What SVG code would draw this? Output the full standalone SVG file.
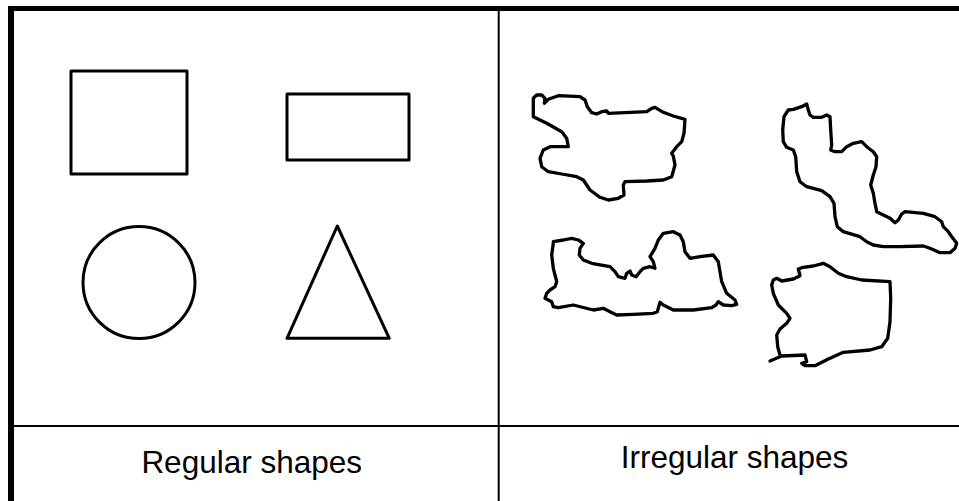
<svg xmlns="http://www.w3.org/2000/svg" width="959" height="501" viewBox="0 0 959 501">
<style>
.frame{stroke:#000;fill:none}
.shape{stroke:#000;stroke-width:3;fill:none;stroke-linejoin:round;stroke-linecap:round}
.blob{stroke-width:3.3}
.label{font-family:"Liberation Sans",Arial,sans-serif;font-size:31.5px;fill:#000;text-anchor:middle}
</style>
<rect width="959" height="501" fill="#fff"/>
<g id="grid">
<line class="frame" x1="8" y1="8.5" x2="959" y2="8.5" stroke-width="5"/>
<line class="frame" x1="11" y1="6" x2="11" y2="501" stroke-width="6"/>
<line class="frame" x1="498.7" y1="11" x2="498.7" y2="501" stroke-width="2"/>
<line class="frame" x1="14" y1="426" x2="959" y2="426" stroke-width="1.8"/>
</g>
<g id="regular">
<rect id="square" class="shape" x="71" y="71" width="116" height="103"/>
<rect id="rectangle" class="shape" x="287" y="94" width="122" height="66"/>
<circle id="circle" class="shape" cx="139" cy="282.5" r="56"/>
<polygon id="triangle" class="shape" points="337.3,226 287,338.3 389.3,338.3"/>
</g>
<g id="irregular">
<polygon id="blob1" class="shape blob" points="533.3,115 533.3,98.3 536.7,95 541.7,95 545,98.3 544.3,103.3 548.3,99.3 558.3,95.7 580,96.7 585,100 587.3,106.7 591.7,112.7 596.7,114 601.7,111.7 606.7,111 608.3,113.3 646.7,111.7 651.7,108.3 655,107.3 663.3,112.3 673.3,116 685,119.3 684,133.3 681.7,141.7 676.7,146.7 671.7,153.3 673.3,156 675,165 671.7,176.7 663.3,180 646.7,181 625,181.7 623.3,185 624,195 618.3,198.3 608.3,200 600,197.3 590,190 583.3,180 576.7,176.7 561.7,174 548.3,171.7 541.7,166.7 540,158.3 543.3,150 550,146.7 568.3,146.7 566.7,138.3 561.7,131.7 546.7,123.3 533.3,116.7"/>
<polygon id="blob2" class="shape blob" points="788.3,110 793.3,109.3 801.7,106.7 806.7,104 808.3,110 810,115 813.3,117.3 821.7,117.3 826.7,115 830,116.7 830.7,130 831.7,145 830.7,150 835,151.7 841.7,151.7 846.7,146.7 853.3,143.3 861.7,141.7 866.7,146.7 873.3,151.7 876.7,156.7 876,166.7 873.3,175 870.7,185 873.3,193.3 875,203.3 876.7,211.7 883.3,215 890,218.3 895,222.7 898.3,220 901.7,214 905,211.7 923.3,213.3 935,216.7 941.7,221.7 943.3,226.7 948.3,231.7 951.7,236.7 956.7,243.3 955,248.3 950,252.7 940,252.7 930,248.3 923.3,246 900,246.7 883.3,246.7 873.3,245 866.7,241.7 860,236.7 843.3,231.7 837.3,226.7 835,216.7 834,203.3 830,196.7 821.7,190.7 806.7,186.7 800,181.7 796.7,171.7 795.7,156.7 793.3,150 786.7,147.3 783.3,141.7 782.7,130 784,116.7"/>
<polygon id="blob3" class="shape blob" points="553.3,241.7 563.3,240 571.7,238.3 578.3,240 583.3,243.3 580,248.3 579.3,255 583.3,260 591.7,263.3 610,266.7 615,271.7 618.3,276.7 625,278.3 626.7,273.3 630,271 631.7,275 636,276.7 640,271.7 643.3,268.3 650,266.7 655,268.3 653.3,261.7 650,256.7 655,248.3 658.3,240 663.3,233.3 673.3,231.7 680,235 683.3,241.7 685,251.7 690,258.3 700,256.7 713.3,255 718.3,261.7 721.7,281.7 726.7,293.3 735,300 736.7,304.3 731.7,305.7 723.3,305 718.3,301.7 716,305 711.7,307.7 693.3,310 673.3,310 663.3,305 660,302.3 657.3,311.7 653.3,313.3 633.3,314.3 616.7,315 610,311.7 603.3,308.3 593.3,310 573.3,305 558.3,307.7 553.3,306.7 551.7,301.7 545,298.3 546.7,293.3 550,290 555,286.7 556.7,281.7 553.3,268.3 551.7,255 553.3,243.3"/>
<polyline id="blob4" class="shape blob" points="770,361 781.7,356 805,355 806.7,361.7 801.7,363.3 805,365.7 815,365.7 828.3,359 843.3,352.3 870,350 881.7,346.7 887.7,338.3 890,321.7 890.7,298.3 890,281.7 861.7,280 846.7,276.7 838.3,273.3 830,266.7 823.3,263.3 813.3,266 801.7,267.7 798.3,269 800,275.7 793.3,279 781.7,281 776.7,278.3 773.3,280 771.7,285 773.3,293.3 778.3,305 786.7,313.3 790,318.3 786.7,323.3 780,329 776.7,335 777.7,346.7 780,355"/>
</g>
<g id="labels">
<text class="label" x="251.7" y="473">Regular shapes</text>
<text class="label" x="734.5" y="468">Irregular shapes</text>
</g>
</svg>
